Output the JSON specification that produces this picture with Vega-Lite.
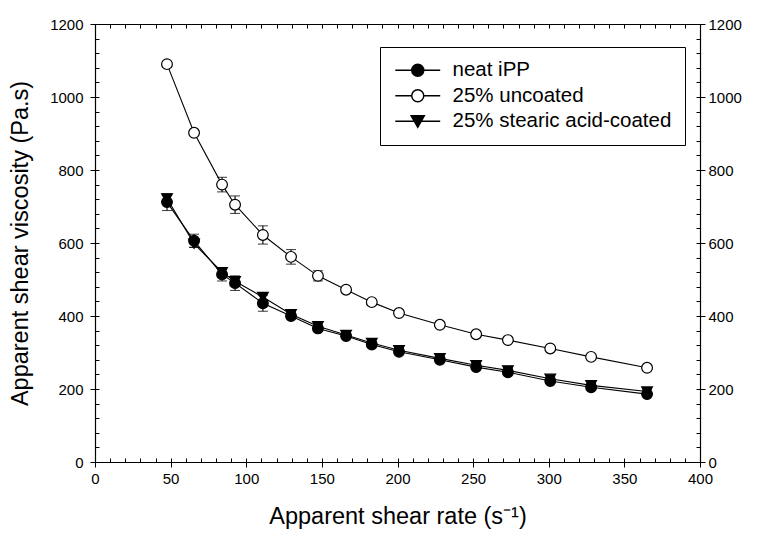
{
  "$schema": "https://vega.github.io/schema/vega-lite/v6.json",
  "width": 605,
  "height": 438,
  "autosize": {"type": "none"},
  "padding": {"left": 95, "top": 24, "right": 58, "bottom": 72},
  "background": "white",
  "config": {
    "font": "Liberation Sans",
    "view": {"stroke": null},
    "axis": {
      "grid": false,
      "domainColor": "black",
      "domainWidth": 1.2,
      "tickColor": "black",
      "tickWidth": 1,
      "labelColor": "black",
      "titleColor": "black",
      "labelFont": "Liberation Sans",
      "titleFont": "Liberation Sans",
      "labelFontSize": 15,
      "titleFontSize": 23.5,
      "titleFontWeight": "normal",
      "labelOverlap": false,
      "labelFlush": false,
      "format": "d"
    },
    "legend": {
      "labelFont": "Liberation Sans",
      "labelFontSize": 20.5,
      "labelColor": "black",
      "labelLimit": 0
    }
  },
  "data": {
    "values": [
      {"s": "neat iPP", "x": 47.6, "y": 712, "lo": 689, "hi": 735},
      {"s": "neat iPP", "x": 65.5, "y": 606, "lo": 588, "hi": 624},
      {"s": "neat iPP", "x": 84, "y": 514, "lo": 496, "hi": 532},
      {"s": "neat iPP", "x": 92.6, "y": 490, "lo": 470, "hi": 510},
      {"s": "neat iPP", "x": 111, "y": 435, "lo": 413, "hi": 457},
      {"s": "neat iPP", "x": 129.6, "y": 400, "lo": 392, "hi": 408},
      {"s": "neat iPP", "x": 147.4, "y": 366, "lo": 358, "hi": 374},
      {"s": "neat iPP", "x": 166, "y": 345, "lo": 339, "hi": 351},
      {"s": "neat iPP", "x": 183, "y": 322, "lo": 316, "hi": 328},
      {"s": "neat iPP", "x": 201, "y": 302, "lo": 296, "hi": 308},
      {"s": "neat iPP", "x": 228, "y": 280, "lo": 275, "hi": 285},
      {"s": "neat iPP", "x": 252, "y": 260, "lo": 255, "hi": 265},
      {"s": "neat iPP", "x": 273, "y": 246, "lo": 241, "hi": 251},
      {"s": "neat iPP", "x": 301, "y": 222, "lo": 217, "hi": 227},
      {"s": "neat iPP", "x": 328, "y": 205, "lo": 200, "hi": 210},
      {"s": "neat iPP", "x": 365, "y": 186, "lo": 181, "hi": 191},
      {"s": "25% uncoated", "x": 47.6, "y": 1090, "lo": 1085, "hi": 1095},
      {"s": "25% uncoated", "x": 65.5, "y": 902, "lo": 896, "hi": 908},
      {"s": "25% uncoated", "x": 84, "y": 760, "lo": 740, "hi": 780},
      {"s": "25% uncoated", "x": 92.6, "y": 705, "lo": 681, "hi": 729},
      {"s": "25% uncoated", "x": 111, "y": 622, "lo": 597, "hi": 647},
      {"s": "25% uncoated", "x": 129.6, "y": 562, "lo": 542, "hi": 582},
      {"s": "25% uncoated", "x": 147.4, "y": 510, "lo": 496, "hi": 524},
      {"s": "25% uncoated", "x": 166, "y": 472, "lo": 466, "hi": 478},
      {"s": "25% uncoated", "x": 183, "y": 438, "lo": 432, "hi": 444},
      {"s": "25% uncoated", "x": 201, "y": 408, "lo": 403, "hi": 413},
      {"s": "25% uncoated", "x": 228, "y": 376, "lo": 371, "hi": 381},
      {"s": "25% uncoated", "x": 252, "y": 350, "lo": 345, "hi": 355},
      {"s": "25% uncoated", "x": 273, "y": 334, "lo": 329, "hi": 339},
      {"s": "25% uncoated", "x": 301, "y": 311, "lo": 306, "hi": 316},
      {"s": "25% uncoated", "x": 328, "y": 288, "lo": 283, "hi": 293},
      {"s": "25% uncoated", "x": 365, "y": 258, "lo": 253, "hi": 263},
      {"s": "25% stearic acid-coated", "x": 47.6, "y": 722, "lo": 712, "hi": 732},
      {"s": "25% stearic acid-coated", "x": 65.5, "y": 598, "lo": 588, "hi": 608},
      {"s": "25% stearic acid-coated", "x": 84, "y": 520, "lo": 512, "hi": 528},
      {"s": "25% stearic acid-coated", "x": 92.6, "y": 495, "lo": 487, "hi": 503},
      {"s": "25% stearic acid-coated", "x": 111, "y": 452, "lo": 442, "hi": 462},
      {"s": "25% stearic acid-coated", "x": 129.6, "y": 405, "lo": 399, "hi": 411},
      {"s": "25% stearic acid-coated", "x": 147.4, "y": 372, "lo": 366, "hi": 378},
      {"s": "25% stearic acid-coated", "x": 166, "y": 348, "lo": 343, "hi": 353},
      {"s": "25% stearic acid-coated", "x": 183, "y": 326, "lo": 321, "hi": 331},
      {"s": "25% stearic acid-coated", "x": 201, "y": 306, "lo": 301, "hi": 311},
      {"s": "25% stearic acid-coated", "x": 228, "y": 284, "lo": 279, "hi": 289},
      {"s": "25% stearic acid-coated", "x": 252, "y": 265, "lo": 260, "hi": 270},
      {"s": "25% stearic acid-coated", "x": 273, "y": 251, "lo": 246, "hi": 256},
      {"s": "25% stearic acid-coated", "x": 301, "y": 228, "lo": 223, "hi": 233},
      {"s": "25% stearic acid-coated", "x": 328, "y": 210, "lo": 205, "hi": 215},
      {"s": "25% stearic acid-coated", "x": 365, "y": 193, "lo": 188, "hi": 198}
    ]
  },
  "resolve": {"axis": {"x": "independent", "y": "independent"}, "scale": {"shape": "independent"}},
  "layer": [
    {
      "mark": {"type": "errorbar", "ticks": {"size": 10, "color": "black", "strokeWidth": 1.1}, "color": "black", "thickness": 1.1},
      "encoding": {
        "x": {"field": "x", "type": "quantitative", "scale": {"domain": [0, 400], "nice": false}, "axis": null},
        "y": {"field": "lo", "type": "quantitative", "scale": {"domain": [0, 1200], "nice": false}, "axis": null},
        "y2": {"field": "hi"},
        "detail": {"field": "s"}
      }
    },
    {
      "mark": {"type": "line", "color": "black", "strokeWidth": 1.1},
      "encoding": {
        "x": {"field": "x", "type": "quantitative", "scale": {"domain": [0, 400], "nice": false},
          "axis": {"orient": "bottom", "values": [0, 50, 100, 150, 200, 250, 300, 350, 400], "tickSize": 5, "labelPadding": 4, "title": "Apparent shear rate (s⁻¹)", "titlePadding": 18}},
        "y": {"field": "y", "type": "quantitative", "scale": {"domain": [0, 1200], "nice": false},
          "axis": {"orient": "left", "values": [0, 200, 400, 600, 800, 1000, 1200], "tickSize": 5, "labelPadding": 7, "title": "Apparent shear viscosity (Pa.s)", "titlePadding": 17}},
        "detail": {"field": "s"}
      }
    },
    {
      "mark": {"type": "point", "filled": true, "stroke": "black", "strokeWidth": 1.2, "opacity": 1},
      "encoding": {
        "x": {"field": "x", "type": "quantitative", "scale": {"domain": [0, 400], "nice": false}, "axis": null},
        "y": {"field": "y", "type": "quantitative", "scale": {"domain": [0, 1200], "nice": false}, "axis": null},
        "shape": {"field": "s", "type": "nominal",
          "scale": {"domain": ["neat iPP", "25% uncoated", "25% stearic acid-coated"], "range": ["circle", "circle", "triangle-down"]},
          "legend": null},
        "fill": {"field": "s", "type": "nominal",
          "scale": {"domain": ["neat iPP", "25% uncoated", "25% stearic acid-coated"], "range": ["black", "white", "black"]},
          "legend": null},
        "size": {"value": 115}
      }
    },
    {
      "mark": {"type": "point", "filled": true, "color": "white", "fill": "white", "stroke": "black", "strokeWidth": 1.2, "opacity": 0},
      "encoding": {
        "x": {"field": "x", "type": "quantitative", "scale": {"domain": [0, 400], "nice": false}, "axis": null},
        "y": {"field": "y", "type": "quantitative", "scale": {"domain": [0, 1200], "nice": false}, "axis": null},
        "shape": {"field": "s", "type": "nominal",
          "scale": {"domain": ["neat iPP", "25% uncoated", "25% stearic acid-coated"],
            "range": [
              "M-4.1,0L4.1,0M-1.1,0A1.1,1.1 0 1,0 1.1,0A1.1,1.1 0 1,0 -1.1,0ZM-0.48,-0.99L0.48,-0.99M-0.74,-0.81L0.74,-0.81M-0.9,-0.63L0.9,-0.63M-1,-0.45L1,-0.45M-1.07,-0.27L1.07,-0.27M-1.1,-0.09L1.1,-0.09M-1.1,0.09L1.1,0.09M-1.07,0.27L1.07,0.27M-1,0.45L1,0.45M-0.9,0.63L0.9,0.63M-0.74,0.81L0.74,0.81M-0.48,0.99L0.48,0.99",
              "M-4.1,0L-1.1,0M1.1,0L4.1,0M-1.1,0A1.1,1.1 0 1,0 1.1,0A1.1,1.1 0 1,0 -1.1,0Z",
              "M-4.1,0L4.1,0M-1.2,-1L1.2,-1L0,1.1ZM-1.1,-0.82L1.1,-0.82M-0.99,-0.64L0.99,-0.64M-0.89,-0.46L0.89,-0.46M-0.79,-0.28L0.79,-0.28M-0.69,-0.1L0.69,-0.1M-0.58,0.08L0.58,0.08M-0.48,0.26L0.48,0.26M-0.38,0.44L0.38,0.44M-0.27,0.62L0.27,0.62M-0.17,0.8L0.17,0.8"
            ]},
          "legend": {"title": null, "orient": "none", "legendX": 285, "legendY": 23, "strokeColor": "black", "fillColor": "white", "padding": 13,
            "symbolSize": 120, "symbolOffset": 14.5, "labelOffset": 24.5, "rowPadding": 4.5, "symbolFillColor": "white",
            "encode": {"symbols": {"fill": {"value": "white"}, "stroke": {"value": "black"}, "strokeWidth": {"value": 1.2}, "opacity": {"value": 1}}}}}
      }
    },
    {
      "mark": {"type": "point", "opacity": 0},
      "encoding": {
        "x": {"field": "x", "type": "quantitative", "scale": {"domain": [0, 400], "nice": false},
          "axis": {"orient": "top", "offset": -438, "domain": false, "labels": false, "title": null, "tickSize": 4,
            "values": [0, 10, 20, 30, 40, 50, 60, 70, 80, 90, 100, 110, 120, 130, 140, 150, 160, 170, 180, 190, 200, 210, 220, 230, 240, 250, 260, 270, 280, 290, 300, 310, 320, 330, 340, 350, 360, 370, 380, 390, 400]}},
        "y": {"field": "y", "type": "quantitative", "scale": {"domain": [0, 1200], "nice": false},
          "axis": {"orient": "right", "offset": -605, "domain": false, "labels": false, "title": null, "tickSize": 4,
            "values": [0, 40, 80, 120, 160, 200, 240, 280, 320, 360, 400, 440, 480, 520, 560, 600, 640, 680, 720, 760, 800, 840, 880, 920, 960, 1000, 1040, 1080, 1120, 1160, 1200]}}
      }
    },
    {
      "mark": {"type": "point", "opacity": 0},
      "encoding": {
        "x": {"field": "x", "type": "quantitative", "scale": {"domain": [0, 400], "nice": false},
          "axis": {"orient": "bottom", "offset": -438, "domain": true, "labels": false, "title": null, "tickSize": 4,
            "values": [0, 10, 20, 30, 40, 50, 60, 70, 80, 90, 100, 110, 120, 130, 140, 150, 160, 170, 180, 190, 200, 210, 220, 230, 240, 250, 260, 270, 280, 290, 300, 310, 320, 330, 340, 350, 360, 370, 380, 390, 400]}},
        "y": {"field": "y", "type": "quantitative", "scale": {"domain": [0, 1200], "nice": false},
          "axis": {"orient": "right", "values": [0, 200, 400, 600, 800, 1000, 1200], "tickSize": 5, "labelPadding": 3, "title": null}}
      }
    },
    {
      "mark": {"type": "point", "opacity": 0},
      "encoding": {
        "x": {"field": "x", "type": "quantitative", "scale": {"domain": [0, 400], "nice": false}, "axis": null},
        "y": {"field": "y", "type": "quantitative", "scale": {"domain": [0, 1200], "nice": false},
          "axis": {"orient": "left", "offset": -605, "domain": false, "labels": false, "title": null, "tickSize": 4,
            "values": [0, 40, 80, 120, 160, 200, 240, 280, 320, 360, 400, 440, 480, 520, 560, 600, 640, 680, 720, 760, 800, 840, 880, 920, 960, 1000, 1040, 1080, 1120, 1160, 1200]}}
      }
    }
  ]
}
